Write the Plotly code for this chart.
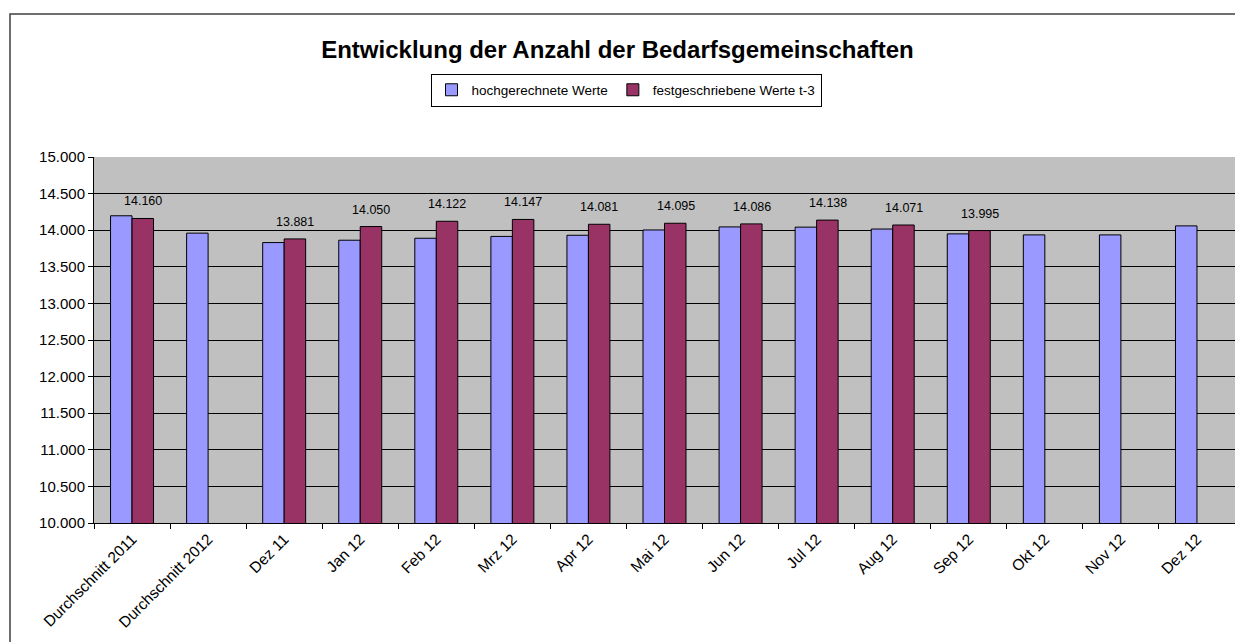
import plotly.graph_objects as go

categories = ["Durchschnitt 2011", "Durchschnitt 2012", "Dez 11", "Jan 12", "Feb 12",
              "Mrz 12", "Apr 12", "Mai 12", "Jun 12", "Jul 12", "Aug 12", "Sep 12",
              "Okt 12", "Nov 12", "Dez 12"]
hochgerechnet = [14197, 13960, 13831, 13863, 13890, 13915, 13931, 14003, 14045,
                 14042, 14016, 13950, 13936, 13936, 14059]
festgeschrieben = [14160, None, 13881, 14050, 14122, 14147, 14081, 14095, 14086,
                   14138, 14071, 13995, None, None, None]
y_ticks = [10000, 10500, 11000, 11500, 12000, 12500, 13000, 13500, 14000, 14500, 15000]

def de(v):
    return f"{v:,.0f}".replace(",", ".")

FONT = "Liberation Sans, Arial"

fig = go.Figure()
fig.add_trace(go.Bar(x=categories, y=hochgerechnet, name="hochgerechnete Werte",
                     marker=dict(color="#9999FF", line=dict(color="#000000", width=1))))
fig.add_trace(go.Bar(x=categories, y=festgeschrieben, name="festgeschriebene Werte t-3",
                     marker=dict(color="#993366", line=dict(color="#000000", width=1))))

annotations = []
for c, v in zip(categories, festgeschrieben):
    if v is not None:
        annotations.append(dict(x=c, y=v, xref="x", yref="y", text=de(v), showarrow=False,
                                xshift=11, yshift=8, yanchor="bottom",
                                font=dict(family=FONT, size=12.5, color="#000")))

W, H = 1235, 642
L, T, B = 94, 157, 119
PW, PH = W - L, H - T - B

fig.update_layout(
    width=W, height=H,
    paper_bgcolor="white", plot_bgcolor="#C0C0C0",
    margin=dict(l=L, r=0, t=T, b=B, autoexpand=False),
    barmode="group", bargap=0.435, bargroupgap=0,
    title=dict(text="<b>Entwicklung der Anzahl der Bedarfsgemeinschaften</b>",
               x=0.5, xanchor="center", y=1 - 50 / H, yanchor="middle",
               font=dict(family=FONT, size=24, color="#000")),
    legend=dict(orientation="h", x=(626 - L) / PW, xanchor="center",
                y=1 + (T - 90) / PH, yanchor="middle",
                bordercolor="#000", borderwidth=1, bgcolor="white",
                font=dict(family=FONT, size=13.5, color="#000"),
                itemwidth=30, tracegroupgap=0),
    annotations=annotations,
    shapes=[dict(type="rect", xref="paper", yref="paper",
                 x0=(10 - L) / PW, x1=1.05, y0=-0.5, y1=1 + (T - 14) / PH,
                 line=dict(color="#404040", width=1.5), fillcolor="rgba(0,0,0,0)",
                 layer="below")],
    font=dict(family=FONT, size=15, color="#000"),
)
fig.update_xaxes(type="category", tickangle=-45, ticks="outside", ticklen=5,
                 tickson="boundaries", tickcolor="#000", showline=True,
                 linecolor="#000", linewidth=1, showgrid=False,
                 tickfont=dict(family=FONT, size=15.5, color="#000"))
fig.update_yaxes(range=[10000, 15000], tickvals=y_ticks, ticktext=[de(v) for v in y_ticks],
                 ticks="outside", ticklen=5, tickcolor="#000", showline=True,
                 linecolor="#000", linewidth=1, showgrid=True, gridcolor="#000",
                 gridwidth=1, zeroline=False,
                 tickfont=dict(family=FONT, size=15, color="#000"))

fig.write_html("out.html", config={"displayModeBar": False},
               post_script=("document.documentElement.style.overflow='hidden';"
                            "document.body.style.margin='0';"
                            "document.body.style.overflow='hidden';"))
